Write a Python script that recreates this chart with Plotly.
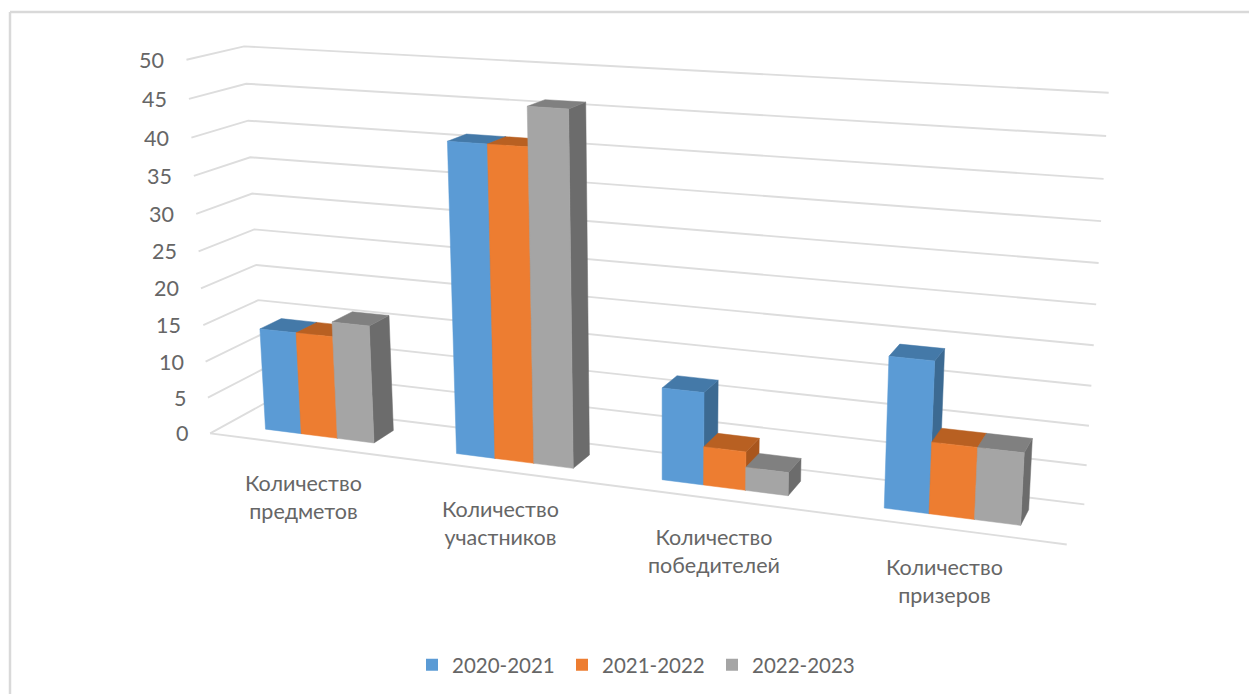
import numpy as np
import plotly.graph_objects as go

categories = ["Количество<br>предметов", "Количество<br>участников", "Количество<br>победителей", "Количество<br>призеров"]
series_names = ["2020-2021", "2021-2022", "2022-2023"]
values_2020 = [14, 41, 12, 19]
values_2021 = [14, 41, 5, 9]
values_2022 = [16, 46, 3, 9]
axis_ticks = [0, 5, 10, 15, 20, 25, 30, 35, 40, 45, 50]
axis_max = 50

front_colors = ["#5B9BD5", "#ED7D31", "#A5A5A5"]
top_colors = ["#4479A8", "#B86022", "#808080"]
side_colors = ["#3C6A92", "#A9561D", "#6C6C6C"]
TEXT = "#666666"
FONT = "Lato, Carlito, 'Open Sans', sans-serif"

# Camera calibration: (category-axis fraction, depth fraction, value fraction) -> pixel
calib = [
    (0, 1, 1, 244, 46), (1, 1, 1, 1109, 93), (0, 1, 0, 264, 405), (1, 1, 0, 1084, 504),
    (0, 0, 1, 186, 61), (0, 0, 0, 210, 433), (1, 0, 0, 1067, 545),
    (0, 1, .5, 254.5, 229), (1, 1, .5, 1096, 304), (0, 0, .5, 199, 250),
]
A = []
b = []
for u, v, w, px, py in calib:
    A.append([u, v, w, 1, 0, 0, 0, 0, -px*u, -px*v, -px*w]); b.append(px)
    A.append([0, 0, 0, 0, u, v, w, 1, -py*u, -py*v, -py*w]); b.append(py)
M = np.append(np.linalg.lstsq(np.array(A, float), np.array(b, float), rcond=None)[0], 1).reshape(3, 4)


def project(u, v, w):
    p = M @ np.array([u, v, w, 1.0])
    return p[0] / p[2], p[1] / p[2]


def path(points):
    xs, ys = zip(*[project(*p) for p in points])
    return list(xs), list(ys)


def join(polys, close=True):
    X, Y = [], []
    for pts in polys:
        x, y = path(pts + pts[:1] if close else pts)
        X += x + [None]
        Y += y + [None]
    return X, Y


fig = go.Figure()

# Walls: gridlines on side wall and back wall, plus floor front edge
grid = []
for t in axis_ticks:
    w = t / axis_max
    grid.append([(0, 0, w), (0, 1, w), (1, 1, w)])
grid.append([(0, 0, 0), (1, 0, 0)])
gx, gy = join(grid, close=False)
fig.add_trace(go.Scatter(x=gx, y=gy, mode="lines", line=dict(color="#DDDDDD", width=1.9),
                         hoverinfo="skip", showlegend=False))

# Bars
n_cat = len(categories)
GAP = 2.2
V0, V1 = 0.3, 0.7
all_values = [values_2020, values_2021, values_2022]
for s, vals in enumerate(all_values):
    sides, tops, fronts = [], [], []
    for c, val in enumerate(vals):
        unit = 1 / (n_cat * (len(all_values) + GAP))
        u0 = c / n_cat + (GAP / 2 + s) * unit
        u1 = u0 + unit
        w = val / axis_max
        sides.append([(u1, V0, 0), (u1, V1, 0), (u1, V1, w), (u1, V0, w)])
        tops.append([(u0, V0, w), (u1, V0, w), (u1, V1, w), (u0, V1, w)])
        fronts.append([(u0, V0, 0), (u1, V0, 0), (u1, V0, w), (u0, V0, w)])
    for polys, col in ((sides, side_colors[s]), (tops, top_colors[s]), (fronts, front_colors[s])):
        x, y = join(polys)
        fig.add_trace(go.Scatter(x=x, y=y, mode="lines", fill="toself", fillcolor=col,
                                 line=dict(color=col, width=0.5), hoverinfo="skip", showlegend=False))

# Legend entries
for name, col in zip(series_names, front_colors):
    fig.add_trace(go.Scatter(x=[None], y=[None], mode="markers", name=name,
                             marker=dict(symbol="square", size=12, color=col)))

# Value labels
annotations = []
for t in axis_ticks:
    x, y = project(0, 0, t / axis_max)
    annotations.append(dict(x=x - 20, y=y, text=str(t), showarrow=False, xanchor="right", yanchor="middle",
                            font=dict(family=FONT, size=21.5, color=TEXT)))
# Category labels
for c, label in enumerate(categories):
    x, y = project((c + .5) / n_cat, 0, 0)
    annotations.append(dict(x=x, y=y + 23, text=label, showarrow=False, xanchor="center", yanchor="top",
                            font=dict(family=FONT, size=21.5, color=TEXT)))

fig.update_layout(
    width=1249, height=694, autosize=False,
    margin=dict(l=0, r=0, t=0, b=0),
    paper_bgcolor="white", plot_bgcolor="white",
    xaxis=dict(range=[0, 1249], visible=False, fixedrange=True),
    yaxis=dict(range=[694, 0], visible=False, fixedrange=True),
    annotations=annotations,
    legend=dict(orientation="h", x=412 / 1249, xref="paper", y=0.042, yanchor="middle", xanchor="left",
                entrywidth=105, entrywidthmode="pixels", font=dict(family=FONT, size=20.5, color=TEXT),
                bgcolor="rgba(0,0,0,0)"),
    shapes=[
        dict(type="line", x0=10, x1=1249, y0=12, y1=12, line=dict(color="#D9D9D9", width=2.5)),
        dict(type="line", x0=10, x1=10, y0=12, y1=694, line=dict(color="#D9D9D9", width=2.5)),
    ],
)
fig.write_html("out.html", config=dict(displayModeBar=False),
               post_script="document.body.style.margin='0';document.body.style.overflow='hidden';")
